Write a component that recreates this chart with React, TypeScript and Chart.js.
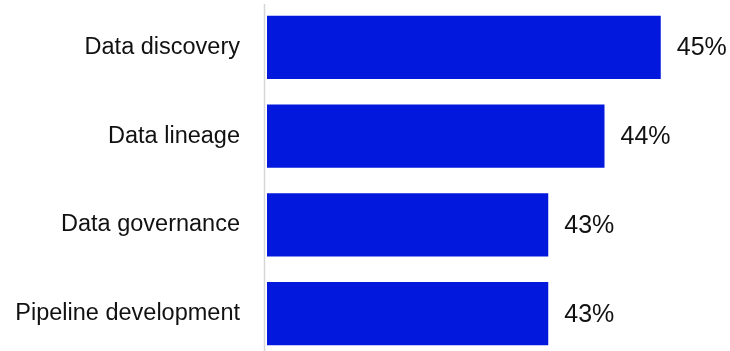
import React, { useEffect, useRef } from "react";
import { Chart, registerables } from "chart.js";

Chart.register(...registerables);

const categories = ["Data discovery", "Data lineage", "Data governance", "Pipeline development"];
const values = [45, 44, 43, 43];
const valueLabels = ["45%", "44%", "43%", "43%"];

const BAR_COLOR = "#0218DC";
const FONT = "'Liberation Sans', Arial, sans-serif";

const valueLabelPlugin = {
  id: "valueLabels",
  afterDatasetsDraw(chart: any) {
    const ctx = chart.ctx;
    const meta = chart.getDatasetMeta(0);
    ctx.save();
    ctx.font = `25px ${FONT}`;
    ctx.fillStyle = "#111111";
    ctx.textAlign = "left";
    ctx.textBaseline = "middle";
    meta.data.forEach((bar: any, i: number) => {
      ctx.fillText(valueLabels[i], bar.x + 16, bar.y + 1);
    });
    ctx.restore();
  },
};

const axisLinePlugin = {
  id: "axisLine",
  beforeDatasetsDraw(chart: any) {
    const { ctx, chartArea } = chart;
    ctx.save();
    ctx.strokeStyle = "#d6d6d6";
    ctx.lineWidth = 1.5;
    ctx.beginPath();
    const x = chartArea.left - 2.5;
    ctx.moveTo(x, chartArea.top + 1);
    ctx.lineTo(x, chartArea.bottom);
    ctx.stroke();
    ctx.restore();
  },
};

export default function App() {
  const canvasRef = useRef<HTMLCanvasElement>(null);

  useEffect(() => {
    if (!canvasRef.current) return;
    const chart = new Chart(canvasRef.current, {
      type: "bar",
      data: {
        labels: categories,
        datasets: [
          {
            data: values,
            backgroundColor: BAR_COLOR,
            borderWidth: 0,
            barPercentage: 0.71,
            categoryPercentage: 1,
          },
        ],
      },
      options: {
        indexAxis: "y",
        responsive: false,
        maintainAspectRatio: false,
        devicePixelRatio: 1,
        animation: false,
        layout: { padding: { top: 3, bottom: 2, left: 0, right: 13 } },
        plugins: {
          legend: { display: false },
          tooltip: { enabled: false },
        },
        scales: {
          x: {
            display: false,
            min: 38,
            max: 46,
          },
          y: {
            afterFit(scale: any) {
              scale.width = 267;
              scale.paddingTop = 0;
              scale.paddingBottom = 0;
            },
            grid: { display: false, drawTicks: false },
            border: { display: false },
            ticks: {
              padding: 27,
              color: "#111111",
              font: { family: FONT, size: 23.5 },
            },
          },
        },
      },
      plugins: [axisLinePlugin, valueLabelPlugin],
    });
    return () => chart.destroy();
  }, []);

  return (
    <div style={{ position: "fixed", left: 0, top: 0, width: 730, height: 360, overflow: "hidden", background: "#ffffff" }}>
      <canvas ref={canvasRef} width={730} height={360} style={{ display: "block", width: 730, height: 360 }} />
    </div>
  );
}
